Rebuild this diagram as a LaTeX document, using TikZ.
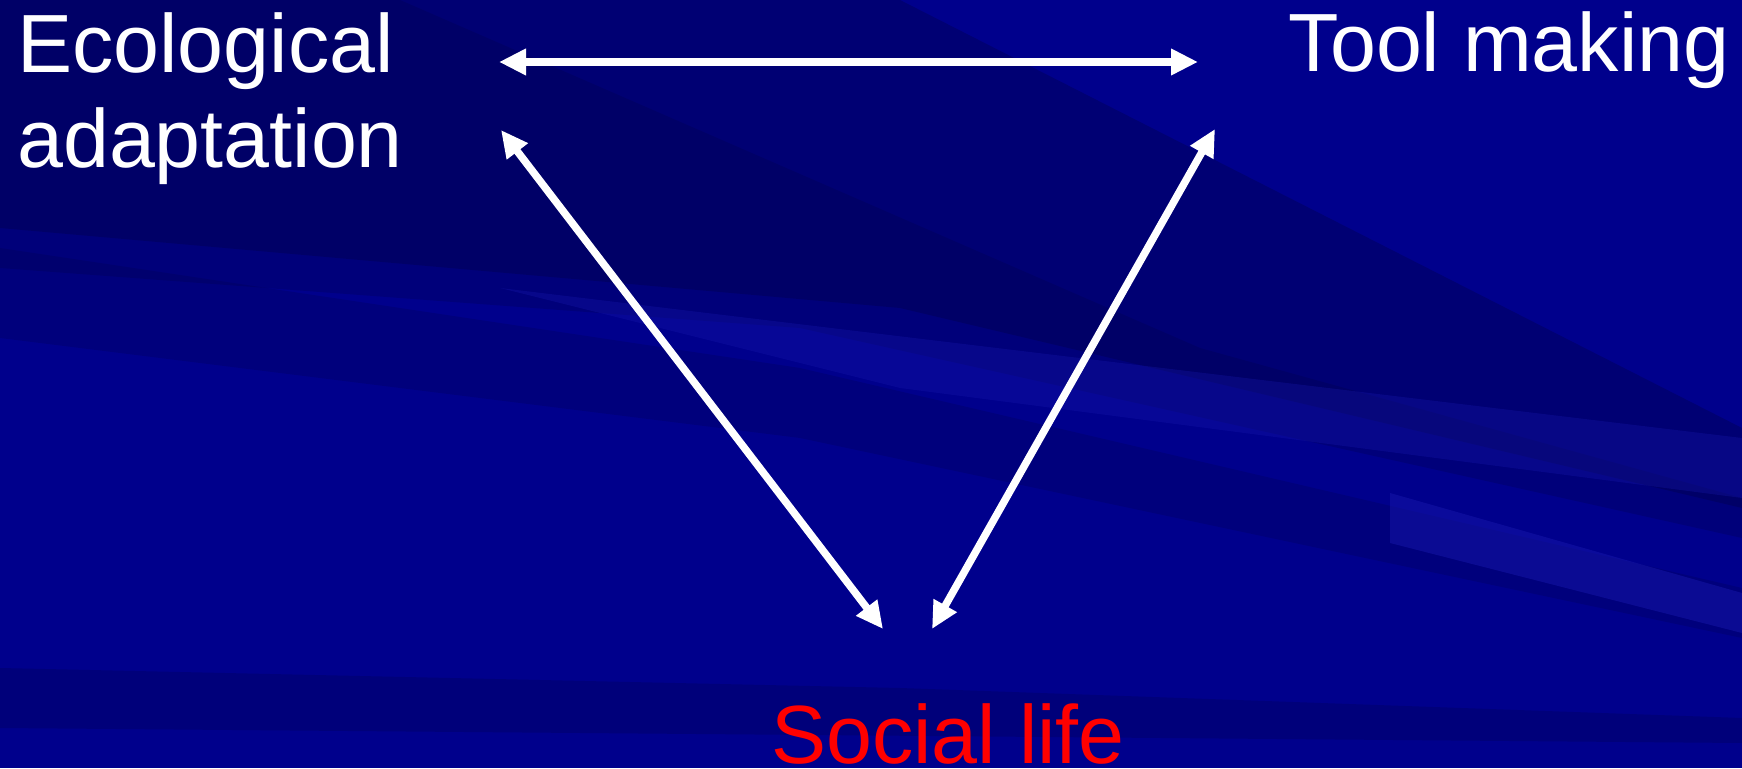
\documentclass[tikz,border=0pt]{standalone}
\usepackage{fontspec}
\setmainfont{Liberation Sans}
\usetikzlibrary{arrows.meta, positioning}
\definecolor{slideblue}{RGB}{0,0,140}
\definecolor{darkband}{RGB}{0,0,70}
\definecolor{lightband}{RGB}{25,25,175}
\definecolor{sociallife}{RGB}{255,0,0}

\begin{document}
\begin{tikzpicture}[>={Triangle[length=0.27cm, width=0.25cm]},
    topic/.style={inner sep=0pt, font=\fontsize{23.5}{27.3}\selectfont},
    link/.style={<->, draw=white, line width=0.075cm}]
    \useasboundingbox (0,0) rectangle (17.42,7.68);
    % Background
    \fill[slideblue] (0,0) rectangle (17.42,7.68);
    \fill[darkband, opacity=0.35] (0,7.68) -- (9.0,7.68) -- (17.42,3.4) -- (17.42,2.6) -- (9.0,4.6) -- (0,5.4) -- cycle;
    \fill[darkband, opacity=0.25] (0,7.68) -- (4.0,7.68) -- (12.0,4.2) -- (17.42,2.7) -- (17.42,2.3) -- (8.0,4.4) -- (0,5.0) -- cycle;
    \fill[darkband, opacity=0.22] (0,5.2) -- (8.0,4.0) -- (17.42,1.8) -- (17.42,1.3) -- (8.0,3.3) -- (0,4.3) -- cycle;
    \fill[lightband, opacity=0.30] (5.0,4.8) -- (17.42,3.3) -- (17.42,2.7) -- (9.0,3.8) -- cycle;
    \fill[lightband, opacity=0.45] (13.9,2.75) -- (17.42,1.75) -- (17.42,1.35) -- (13.9,2.25) -- cycle;
    \fill[darkband, opacity=0.25] (0,1.0) -- (9.0,0.8) -- (17.42,0.5) -- (17.42,0.25) -- (0,0.4) -- cycle;

    % Topics
    \node[topic, anchor=base west, align=left, text=white] (eco) at (0.165,6.00) {Ecological\\adaptation};
    \node[topic, anchor=base west, text=white] (tool) at (12.88,6.96) {Tool making};
    \node[topic, anchor=base, text=sociallife] (social) at (9.48,0.05) {Social life};

    % Arrow ends
    \coordinate (eco-r) at (4.99,7.06);
    \coordinate (tool-l) at (11.98,7.06);
    \coordinate (eco-b) at (5.01,6.38);
    \coordinate (tool-b) at (12.15,6.39);
    \coordinate (social-l) at (8.83,1.39);
    \coordinate (social-r) at (9.32,1.39);

    % Links
    \draw[link] (eco-r) -- (tool-l);
    \draw[link] (eco-b) -- (social-l);
    \draw[link] (tool-b) -- (social-r);
\end{tikzpicture}
\end{document}
